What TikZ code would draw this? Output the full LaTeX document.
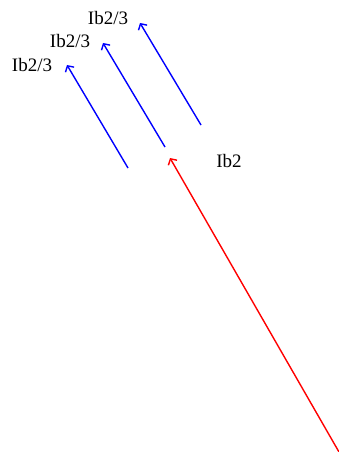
\documentclass[tikz,border=0pt]{standalone}
\usepackage{fontspec}
\setmainfont{Liberation Serif}
\usetikzlibrary{arrows.meta}
\begin{document}
\begin{tikzpicture}[x=1pt,y=-1pt,
  current/.style={line width=1.4pt,-{Straight Barb[length=4.5pt,width=10pt]}},
  lbl/.style={font=\fontsize{19}{22}\selectfont,inner sep=0pt}]
\useasboundingbox (0,0) rectangle (339,452);
% incoming current
\coordinate (r0) at (339,452);
\coordinate (r1) at (170,158);
\draw[current,red] (r0) -- (r1);
% three split currents
\coordinate (a0) at (128,168);
\coordinate (a1) at (67,65);
\coordinate (b0) at (165,147);
\coordinate (b1) at (103,43);
\coordinate (c0) at (201,125);
\coordinate (c1) at (140,23);
\draw[current,blue] (a0) -- (a1);
\draw[current,blue] (b0) -- (b1);
\draw[current,blue] (c0) -- (c1);
% labels
\node[lbl] (la) at (32,65) {Ib2/3};
\node[lbl] (lb) at (70,41) {Ib2/3};
\node[lbl] (lc) at (108,18) {Ib2/3};
\node[lbl] (lr) at (229,161) {Ib2};
\end{tikzpicture}
\end{document}
